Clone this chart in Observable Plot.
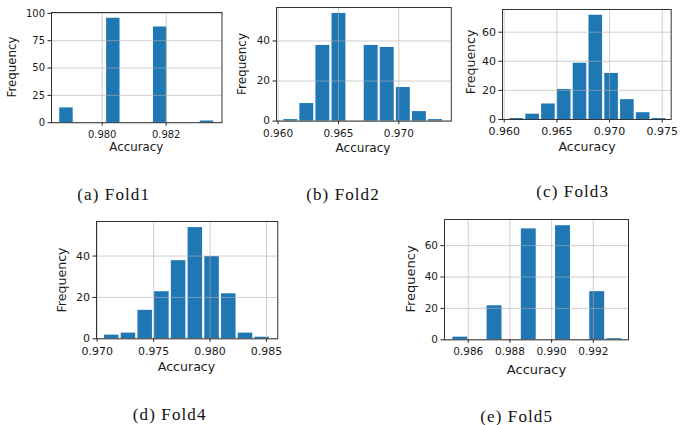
<!DOCTYPE html>
<html>
<head>
<meta charset="utf-8">
<script src="https://cdn.jsdelivr.net/npm/d3@7"></script>
<script src="https://cdn.jsdelivr.net/npm/@observablehq/plot@0.6"></script>
<style>
  html, body { margin: 0; padding: 0; background: white; }
  #page { position: relative; width: 686px; height: 425px; overflow: hidden; background: white; }
  .box { position: absolute; }
  .lbl { position: absolute; font-family: "DejaVu Sans", sans-serif; color: #1a1a1a; white-space: nowrap; line-height: 1; transform: translate(-50%, -50%); }
  .ylbl { transform: translate(-50%, -50%) rotate(-90deg); }
  .cap { position: absolute; font-family: "Liberation Serif", serif; font-size: 17px; letter-spacing: 1.1px; color: #111; white-space: nowrap; line-height: 1; transform: translate(-50%, -50%); }
</style>
</head>
<body>
<div id="page"></div>
<script>
// ---- data ----
// histogram range [min, max] split in 10 equal bins, counts per bin, axis limits and ticks
const fold1Counts = [14, 0, 0, 96, 0, 0, 88, 0, 0, 2];
const fold1Range = [0.97864, 0.98352];
const fold1XLim = [0.978416, 0.983744];
const fold1XTicks = [0.980, 0.982];
const fold1YTicks = [0, 25, 50, 75, 100];

const fold2Counts = [1, 9, 38, 54, 0, 38, 37, 17, 5, 1];
const fold2Range = [0.96038, 0.97371];
const fold2XLim = [0.95987, 0.97435];
const fold2XTicks = [0.960, 0.965, 0.970];
const fold2YTicks = [0, 20, 40];

const fold3Counts = [1, 4, 11, 21, 39, 72, 32, 14, 5, 1];
const fold3Range = [0.96045, 0.97544];
const fold3XLim = [0.95984, 0.97585];
const fold3XTicks = [0.960, 0.965, 0.970, 0.975];
const fold3YTicks = [0, 20, 40, 60];

const fold4Counts = [2, 3, 14, 23, 38, 54, 40, 22, 3, 1];
const fold4Range = [0.97055, 0.98536];
const fold4XLim = [0.96994, 0.98600];
const fold4XTicks = [0.970, 0.975, 0.980, 0.985];
const fold4YTicks = [0, 20, 40];

const fold5Counts = [2, 0, 22, 0, 71, 0, 73, 0, 31, 1];
const fold5Range = [0.98521, 0.99342];
const fold5XLim = [0.98486, 0.99369];
const fold5XTicks = [0.986, 0.988, 0.990, 0.992];
const fold5YTicks = [0, 20, 40, 60];

const captions = ["(a) Fold1", "(b) Fold2", "(c) Fold3", "(d) Fold4", "(e) Fold5"];
const xLabel = "Accuracy";
const yLabel = "Frequency";

// ---- layout ----
const panels = [
  {counts: fold1Counts, range: fold1Range, xlim: fold1XLim, xt: fold1XTicks, yt: fold1YTicks, frame: {L: 51, R: 221.5, T: 11.5, B: 121.7}, tick: 10, lab: 11.8, xl: [136.3, 148], yl: [12.7, 66.7], cap: [113.7, 194]},
  {counts: fold2Counts, range: fold2Range, xlim: fold2XLim, xt: fold2XTicks, yt: fold2YTicks, frame: {L: 275.7, R: 450.5, T: 6.7, B: 120.3}, tick: 10.5, lab: 12, xl: [363, 148.3], yl: [242.3, 63.8], cap: [343, 194]},
  {counts: fold3Counts, range: fold3Range, xlim: fold3XLim, xt: fold3XTicks, yt: fold3YTicks, frame: {L: 502.3, R: 671, T: 9.3, B: 119.3}, tick: 11, lab: 12.5, xl: [587, 146.7], yl: [470.7, 62.2], cap: [572.7, 191]},
  {counts: fold4Counts, range: fold4Range, xlim: fold4XLim, xt: fold4XTicks, yt: fold4YTicks, frame: {L: 96, R: 277.3, T: 221, B: 338.3}, tick: 11, lab: 12.6, xl: [186.5, 366.7], yl: [61.7, 280], cap: [169.7, 414]},
  {counts: fold5Counts, range: fold5Range, xlim: fold5XLim, xt: fold5XTicks, yt: fold5YTicks, frame: {L: 444.3, R: 628.3, T: 219, B: 339.3}, tick: 10.5, lab: 13, xl: [536.5, 369.3], yl: [410, 279.2], cap: [516.7, 416]}
];

const page = document.getElementById("page");
const PADL = 50, PADR = 14, PADT = 10, PADB = 30;

panels.forEach((p, idx) => {
  const [lo, hi] = p.range;
  const n = p.counts.length;
  const bw = (hi - lo) / n;
  const bins = p.counts.map((c, i) => ({x1: lo + i * bw, x2: lo + (i + 1) * bw, count: c})).filter(d => d.count > 0);
  const ymax = d3.max(p.counts) * 1.05;
  const fw = p.frame.R - p.frame.L, fh = p.frame.B - p.frame.T;

  const chart = Plot.plot({
    width: fw + PADL + PADR,
    height: fh + PADT + PADB,
    marginLeft: PADL, marginRight: PADR, marginTop: PADT, marginBottom: PADB,
    style: {fontFamily: "'DejaVu Sans', sans-serif", fontSize: p.tick + "px", color: "#1a1a1a", background: "none", overflow: "visible"},
    x: {domain: p.xlim},
    y: {domain: [0, ymax]},
    marks: [
      Plot.rectY(bins, {x1: "x1", x2: "x2", y: "count", fill: "#1f77b4", insetLeft: 1.1, insetRight: 1.1, insetTop: 0.5}),
      Plot.gridX(p.xt, {stroke: "#b0b0b0", strokeOpacity: 0.6, strokeWidth: 1}),
      Plot.gridY(p.yt, {stroke: "#b0b0b0", strokeOpacity: 0.6, strokeWidth: 1}),
      Plot.axisX(p.xt, {tickFormat: d3.format(".3f"), tickSize: 3.5, tickPadding: 4.5, label: null, stroke: "#222", fill: "#1a1a1a", fontSize: p.tick}),
      Plot.axisY(p.yt, {tickFormat: d3.format("d"), tickSize: 3.5, tickPadding: 3, label: null, stroke: "#222", fill: "#1a1a1a", fontSize: p.tick}),
      Plot.frame({stroke: "#333", strokeWidth: 1})
    ]
  });

  const box = document.createElement("div");
  box.className = "box";
  box.style.left = (p.frame.L - PADL) + "px";
  box.style.top = (p.frame.T - PADT) + "px";
  box.appendChild(chart);
  page.appendChild(box);

  const xl = document.createElement("div");
  xl.className = "lbl";
  xl.style.left = p.xl[0] + "px"; xl.style.top = p.xl[1] + "px";
  xl.style.fontSize = p.lab + "px";
  xl.textContent = xLabel;
  page.appendChild(xl);

  const yl = document.createElement("div");
  yl.className = "lbl ylbl";
  yl.style.left = p.yl[0] + "px"; yl.style.top = p.yl[1] + "px";
  yl.style.fontSize = p.lab + "px";
  yl.textContent = yLabel;
  page.appendChild(yl);

  const cap = document.createElement("div");
  cap.className = "cap";
  cap.style.left = p.cap[0] + "px"; cap.style.top = p.cap[1] + "px";
  cap.textContent = captions[idx];
  page.appendChild(cap);
});
</script>
</body>
</html>
